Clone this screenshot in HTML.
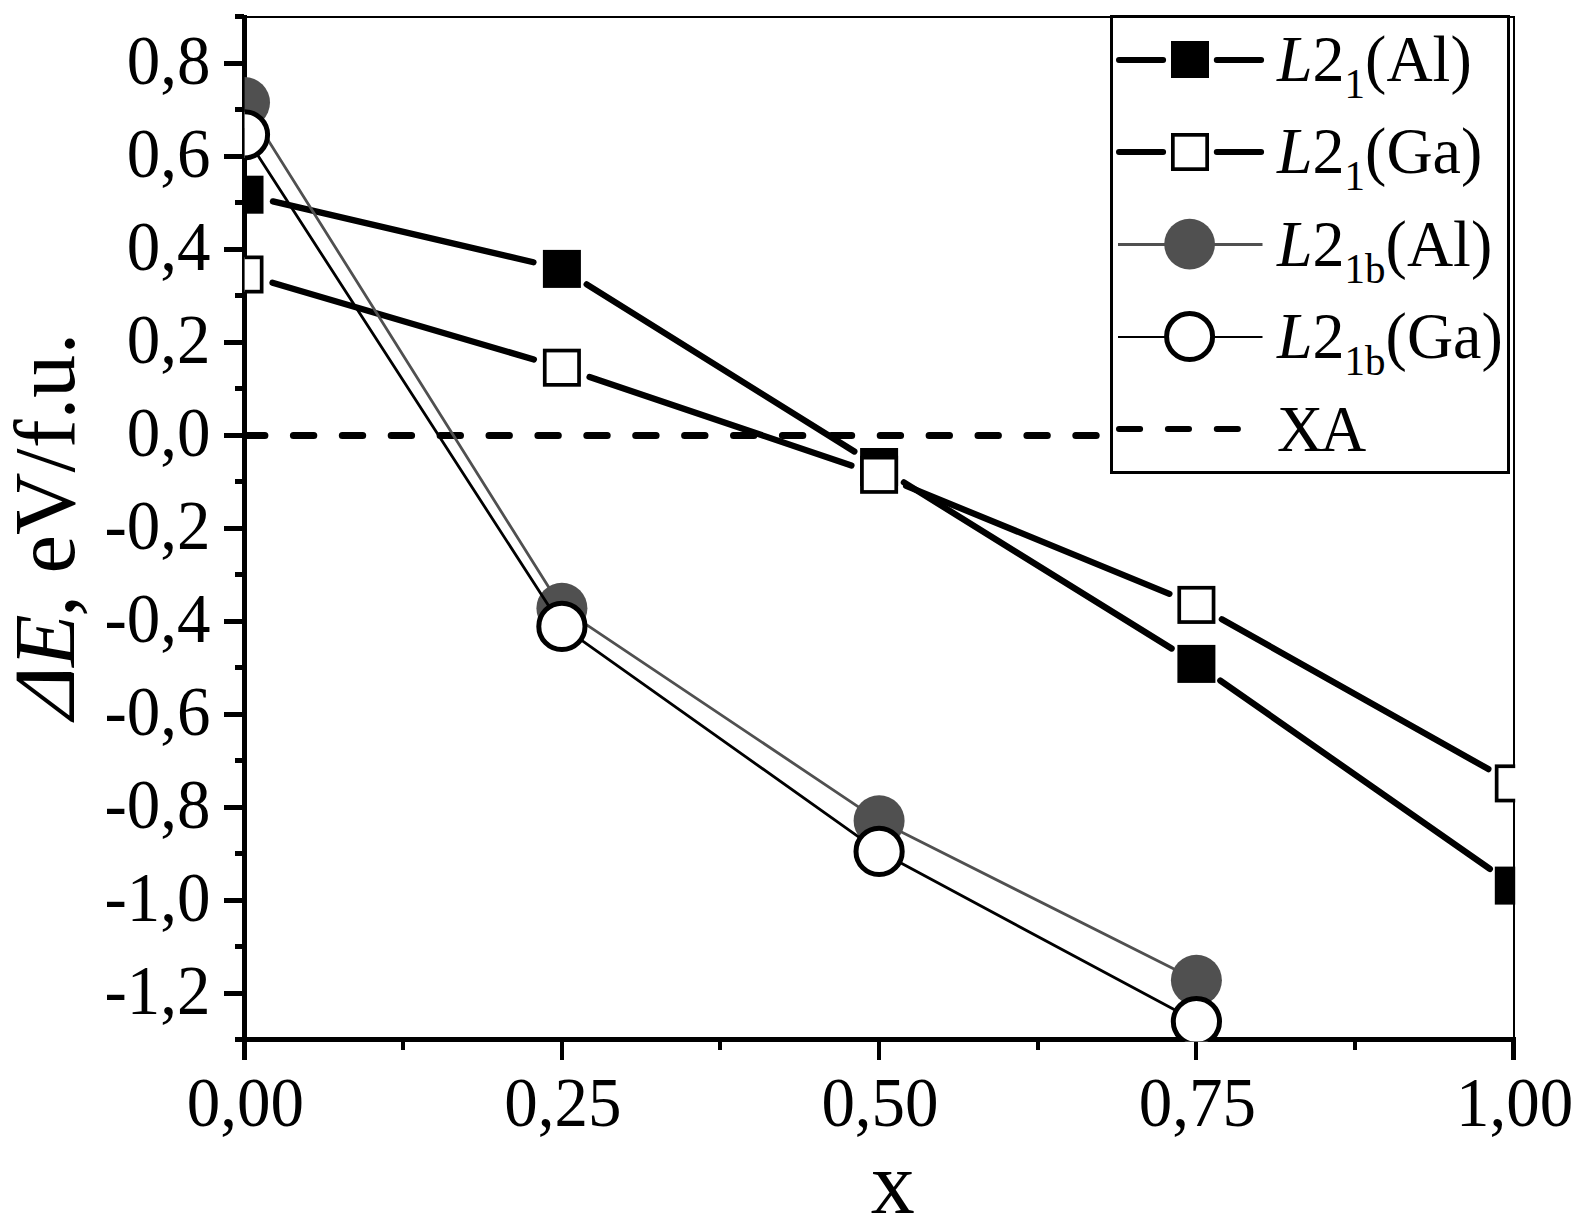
<!DOCTYPE html>
<html lang="en"><head><meta charset="utf-8"><title>Delta E vs x</title>
<style>html,body{margin:0;padding:0;background:#fff;}svg{display:block;}text{font-family:"Liberation Serif",serif;fill:#000;}</style></head><body>
<svg width="1583" height="1226" viewBox="0 0 1583 1226">
<rect width="1583" height="1226" fill="#fff"/>
<defs><clipPath id="pc"><rect x="244.6" y="16" width="1270.6" height="1025.4"/></clipPath></defs>
<g fill="#000" shape-rendering="crispEdges">
<rect x="242" y="16" width="1273" height="2"/>
<rect x="1513" y="16" width="2" height="1024"/>
<rect x="242" y="15" width="5" height="1045"/>
<rect x="235" y="1037" width="1281" height="5"/>
<rect x="224" y="61" width="20" height="5"/>
<rect x="224" y="154" width="20" height="5"/>
<rect x="224" y="247" width="20" height="5"/>
<rect x="224" y="340" width="20" height="5"/>
<rect x="224" y="433" width="20" height="5"/>
<rect x="224" y="526" width="20" height="5"/>
<rect x="224" y="619" width="20" height="5"/>
<rect x="224" y="712" width="20" height="5"/>
<rect x="224" y="805" width="20" height="5"/>
<rect x="224" y="898" width="20" height="5"/>
<rect x="224" y="991" width="20" height="5"/>
<rect x="235" y="14" width="9" height="5"/>
<rect x="235" y="107" width="9" height="5"/>
<rect x="235" y="200" width="9" height="5"/>
<rect x="235" y="293" width="9" height="5"/>
<rect x="235" y="386" width="9" height="5"/>
<rect x="235" y="479" width="9" height="5"/>
<rect x="235" y="572" width="9" height="5"/>
<rect x="235" y="665" width="9" height="5"/>
<rect x="235" y="758" width="9" height="5"/>
<rect x="235" y="851" width="9" height="5"/>
<rect x="235" y="944" width="9" height="5"/>
<rect x="560" y="1040" width="4" height="20"/>
<rect x="877" y="1040" width="4" height="20"/>
<rect x="1194" y="1040" width="4" height="20"/>
<rect x="1511" y="1040" width="5" height="20"/>
<rect x="401" y="1040" width="4" height="10"/>
<rect x="718" y="1040" width="4" height="10"/>
<rect x="1036" y="1040" width="4" height="10"/>
<rect x="1353" y="1040" width="4" height="10"/>
</g>
<g font-size="67" text-anchor="end">
<text transform="translate(210.6,83.8) scale(1,1.035)">0,8</text>
<text transform="translate(210.6,176.8) scale(1,1.035)">0,6</text>
<text transform="translate(210.6,269.8) scale(1,1.035)">0,4</text>
<text transform="translate(210.6,362.8) scale(1,1.035)">0,2</text>
<text transform="translate(210.6,455.8) scale(1,1.035)">0,0</text>
<text transform="translate(210.6,548.9) scale(1,1.035)">-0,2</text>
<text transform="translate(210.6,641.9) scale(1,1.035)">-0,4</text>
<text transform="translate(210.6,734.9) scale(1,1.035)">-0,6</text>
<text transform="translate(210.6,827.9) scale(1,1.035)">-0,8</text>
<text transform="translate(210.6,920.9) scale(1,1.035)">-1,0</text>
<text transform="translate(210.6,1013.9) scale(1,1.035)">-1,2</text>
</g>
<g font-size="67" text-anchor="middle">
<text transform="translate(245.4,1126.4) scale(1,1.035)">0,00</text>
<text transform="translate(562.8,1126.4) scale(1,1.035)">0,25</text>
<text transform="translate(880.0,1126.4) scale(1,1.035)">0,50</text>
<text transform="translate(1197.3,1126.4) scale(1,1.035)">0,75</text>
<text transform="translate(1514.7,1126.4) scale(1,1.035)">1,00</text>
</g>
<text font-size="88" text-anchor="middle" x="892.7" y="1213">x</text>
<text font-size="87" transform="translate(73.7,726) rotate(-90) skewX(-21)">Δ</text>
<text font-size="86" font-style="italic" transform="translate(73.7,667.1) rotate(-90)">E</text>
<text font-size="86.6" transform="translate(73.7,616.7) rotate(-90)">, eV/f.u.</text>
<g clip-path="url(#pc)">
<path d="M244.5 435.5H1515" stroke="#000" stroke-width="7" stroke-linecap="round" stroke-dasharray="20.4 28.5" fill="none"/>
<path d="M272.93 201.35L533.47 262.25M586.67 284.37L854.33 451.53M903.91 482.40L1171.59 648.50M1220.34 680.62L1489.86 868.88" stroke="#000" stroke-width="6.3" stroke-linecap="round" fill="none"/>
<rect x="225.50" y="175.70" width="38" height="38" fill="#000"/>
<rect x="542.90" y="249.90" width="38" height="38" fill="#000"/>
<rect x="860.10" y="448.00" width="38" height="38" fill="#000"/>
<rect x="1177.40" y="644.90" width="38" height="38" fill="#000"/>
<rect x="1494.80" y="866.60" width="38" height="38" fill="#000"/>
<path d="M272.52 282.73L533.88 359.47M589.57 377.04L851.43 465.46M906.12 485.88L1169.38 593.82M1221.85 619.21L1488.35 769.09" stroke="#000" stroke-width="6.3" stroke-linecap="round" fill="none"/>
<rect x="227.35" y="257.35" width="34.3" height="34.3" fill="#fff" stroke="#000" stroke-width="3.7"/>
<rect x="544.75" y="350.55" width="34.3" height="34.3" fill="#fff" stroke="#000" stroke-width="3.7"/>
<rect x="861.95" y="457.65" width="34.3" height="34.3" fill="#fff" stroke="#000" stroke-width="3.7"/>
<rect x="1179.25" y="587.75" width="34.3" height="34.3" fill="#fff" stroke="#000" stroke-width="3.7"/>
<rect x="1496.65" y="766.25" width="34.3" height="34.3" fill="#fff" stroke="#000" stroke-width="3.7"/>
<path d="M255.13 119.44L551.27 591.36M578.52 619.43L862.48 809.57M896.97 829.69L1178.53 971.31" stroke="#505050" stroke-width="2.8" fill="none"/>
<circle cx="244.50" cy="102.50" r="25.5" fill="#505050"/>
<circle cx="561.90" cy="608.30" r="25.5" fill="#505050"/>
<circle cx="879.10" cy="820.70" r="25.5" fill="#505050"/>
<circle cx="1196.40" cy="980.30" r="25.5" fill="#505050"/>
<path d="M255.35 151.60L551.05 609.60M578.21 637.97L862.79 839.83M896.73 860.85L1178.77 1012.05" stroke="#000" stroke-width="2.8" fill="none"/>
<circle cx="244.50" cy="134.80" r="23.1" fill="#fff" stroke="#000" stroke-width="5"/>
<circle cx="561.90" cy="626.40" r="23.1" fill="#fff" stroke="#000" stroke-width="5"/>
<circle cx="879.10" cy="851.40" r="23.1" fill="#fff" stroke="#000" stroke-width="5"/>
<circle cx="1196.40" cy="1021.50" r="23.1" fill="#fff" stroke="#000" stroke-width="5"/>
</g>
<rect x="1111.5" y="16.25" width="397" height="455.75" fill="#fff" stroke="#000" stroke-width="3" shape-rendering="crispEdges"/>
<path d="M1119 60H1163.1M1216.8 60H1261.1" stroke="#000" stroke-width="6" stroke-linecap="round" fill="none"/>
<rect x="1171.0" y="41" width="38" height="37" fill="#000"/>
<path d="M1119 152H1163.1M1216.8 152H1261.1" stroke="#000" stroke-width="6" stroke-linecap="round" fill="none"/>
<rect x="1172.85" y="134.85" width="34.3" height="34.3" fill="#fff" stroke="#000" stroke-width="3.7"/>
<path d="M1118 244.5H1262.5" stroke="#505050" stroke-width="3" fill="none"/>
<circle cx="1189.6" cy="244.1" r="25.4" fill="#505050"/>
<path d="M1118 337H1262.5" stroke="#000" stroke-width="2" fill="none"/>
<circle cx="1189.6" cy="336.4" r="23" fill="#fff" stroke="#000" stroke-width="5"/>
<path d="M1119 429H1262" stroke="#000" stroke-width="6" stroke-linecap="round" stroke-dasharray="21.1 27.8" fill="none"/>
<text transform="translate(1277,81) scale(1,1.025)" font-size="64"><tspan font-style="italic">L</tspan>2<tspan font-size="41" dy="17">1</tspan><tspan dy="-17">(Al)</tspan></text>
<text transform="translate(1277,173) scale(1,1.025)" font-size="64"><tspan font-style="italic">L</tspan>2<tspan font-size="41" dy="17">1</tspan><tspan dy="-17">(Ga)</tspan></text>
<text transform="translate(1277,265.5) scale(1,1.025)" font-size="64"><tspan font-style="italic">L</tspan>2<tspan font-size="41" dy="17">1b</tspan><tspan dy="-17">(Al)</tspan></text>
<text transform="translate(1277,357.5) scale(1,1.025)" font-size="64"><tspan font-style="italic">L</tspan>2<tspan font-size="41" dy="17">1b</tspan><tspan dy="-17">(Ga)</tspan></text>
<text transform="translate(1277,450.5) scale(1,1.025)" font-size="64">X<tspan dx="-3.2">A</tspan></text>
</svg></body></html>
